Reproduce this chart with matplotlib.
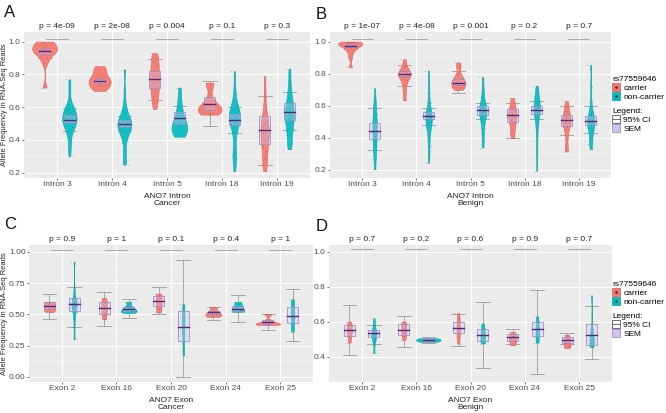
import numpy as np
import matplotlib
matplotlib.use("Agg")
import matplotlib.pyplot as plt
from matplotlib.patches import Patch, Rectangle
from matplotlib.lines import Line2D
from matplotlib.transforms import blended_transform_factory

plt.rcParams['font.family'] = ['Liberation Sans', 'DejaVu Sans']
FS = 6.0

# ---- data ----
intron_labels = ['Intron 3', 'Intron 4', 'Intron 5', 'Intron 18', 'Intron 19']
exon_labels = ['Exon 2', 'Exon 16', 'Exon 20', 'Exon 24', 'Exon 25']

# A: intron, cancer
a_carrier = [
    [1.0, 1.0, 0.99, 0.98, 0.97, 0.96, 0.95, 0.95, 0.94, 0.93, 0.92, 0.90, 0.87, 0.72],
    [0.85, 0.84, 0.83, 0.81, 0.79, 0.78, 0.77, 0.76, 0.76, 0.75, 0.74, 0.73, 0.72, 0.71, 0.70],
    [0.93, 0.90, 0.88, 0.86, 0.82, 0.79, 0.77, 0.75, 0.73, 0.70, 0.67, 0.64, 0.59],
    [0.75, 0.73, 0.66, 0.62, 0.61, 0.60, 0.59, 0.58, 0.57, 0.56, 0.555],
    [0.79, 0.66, 0.56, 0.52, 0.50, 0.48, 0.46, 0.44, 0.42, 0.40, 0.37, 0.33, 0.29, 0.25, 0.21],
]
a_noncarrier = [
    [0.77, 0.70, 0.62, 0.60, 0.59, 0.58, 0.57, 0.56, 0.55, 0.54, 0.53, 0.52, 0.52, 0.51,
     0.50, 0.49, 0.48, 0.46, 0.45, 0.40, 0.36, 0.30],
    [0.83, 0.70, 0.62, 0.58, 0.56, 0.54, 0.53, 0.52, 0.51, 0.50, 0.50, 0.49, 0.48, 0.47,
     0.46, 0.45, 0.44, 0.42, 0.38, 0.33, 0.28, 0.25],
    [0.72, 0.66, 0.61, 0.58, 0.55, 0.53, 0.51, 0.50, 0.49, 0.48, 0.47, 0.46, 0.45, 0.44, 0.43, 0.42],
    [0.82, 0.72, 0.65, 0.61, 0.59, 0.58, 0.57, 0.56, 0.55, 0.54, 0.53, 0.52, 0.51, 0.50,
     0.48, 0.45, 0.40, 0.32, 0.30, 0.29, 0.21],
    [0.835, 0.72, 0.66, 0.62, 0.59, 0.57, 0.55, 0.53, 0.51, 0.48, 0.43, 0.38, 0.345],
]
a_mean_c = [0.94, 0.76, 0.77, 0.62, 0.46]
a_mean_n = [0.525, 0.50, 0.535, 0.525, 0.57]
a_sem_c = [(0.925, 0.955), (0.75, 0.77), (0.72, 0.82), (0.585, 0.665), (0.375, 0.545)]
a_sem_n = [(0.505, 0.55), (0.48, 0.52), (0.50, 0.57), (0.49, 0.56), (0.52, 0.625)]
a_ci_c = [(0.90, 0.98), (0.735, 0.785), (0.645, 0.895), (0.485, 0.76), (0.25, 0.67)]
a_ci_n = [(0.455, 0.595), (0.455, 0.545), (0.46, 0.61), (0.445, 0.60), (0.46, 0.69)]
a_p = ['4e-09', '2e-08', '0.004', '0.1', '0.3']

# B: intron, benign
b_carrier = [
    [1.0, 1.0, 0.995, 0.99, 0.99, 0.985, 0.98, 0.975, 0.97, 0.96, 0.95, 0.93, 0.90, 0.84],
    [0.89, 0.85, 0.82, 0.81, 0.80, 0.80, 0.79, 0.78, 0.76, 0.73, 0.69, 0.635],
    [0.87, 0.84, 0.79, 0.77, 0.76, 0.75, 0.74, 0.73, 0.72, 0.71, 0.70],
    [0.65, 0.62, 0.59, 0.57, 0.55, 0.54, 0.53, 0.51, 0.49, 0.46, 0.42, 0.40],
    [0.63, 0.60, 0.57, 0.55, 0.53, 0.52, 0.51, 0.50, 0.49, 0.47, 0.45, 0.40, 0.33, 0.315],
]
b_noncarrier = [
    [0.71, 0.62, 0.57, 0.55, 0.53, 0.50, 0.47, 0.45, 0.43, 0.41, 0.38, 0.35, 0.31, 0.27, 0.205],
    [0.82, 0.74, 0.68, 0.62, 0.58, 0.56, 0.55, 0.54, 0.53, 0.52, 0.51, 0.50, 0.49, 0.47,
     0.44, 0.40, 0.35, 0.30, 0.245],
    [0.78, 0.70, 0.65, 0.61, 0.59, 0.58, 0.57, 0.56, 0.55, 0.53, 0.50, 0.46, 0.40, 0.34],
    [0.725, 0.70, 0.66, 0.63, 0.61, 0.60, 0.59, 0.58, 0.57, 0.56, 0.54, 0.50, 0.45, 0.38, 0.30, 0.195],
    [0.855, 0.72, 0.62, 0.56, 0.54, 0.52, 0.51, 0.50, 0.49, 0.48, 0.46, 0.44, 0.40, 0.36, 0.33],
]
b_mean_c = [0.975, 0.80, 0.745, 0.54, 0.51]
b_mean_n = [0.44, 0.535, 0.575, 0.575, 0.505]
b_sem_c = [(0.965, 0.985), (0.785, 0.815), (0.73, 0.765), (0.50, 0.58), (0.475, 0.545)]
b_sem_n = [(0.39, 0.49), (0.515, 0.56), (0.545, 0.60), (0.55, 0.60), (0.48, 0.535)]
b_ci_c = [(0.955, 0.995), (0.725, 0.855), (0.68, 0.815), (0.40, 0.62), (0.415, 0.60)]
b_ci_n = [(0.325, 0.585), (0.48, 0.585), (0.515, 0.62), (0.52, 0.63), (0.43, 0.60)]
b_p = ['1e-07', '4e-08', '0.001', '0.2', '0.7']

# C: exon, cancer
c_carrier = [
    [0.60, 0.59, 0.58, 0.56, 0.54, 0.53, 0.52],
    [0.63, 0.59, 0.55, 0.51, 0.46],
    [0.665, 0.65, 0.62, 0.58, 0.54, 0.515],
    [0.56, 0.53, 0.51, 0.50, 0.49, 0.48],
    [0.50, 0.45, 0.43, 0.425, 0.42, 0.415],
]
c_noncarrier = [
    [0.92, 0.70, 0.62, 0.60, 0.59, 0.58, 0.57, 0.55, 0.52, 0.48, 0.40, 0.30],
    [0.60, 0.56, 0.54, 0.53, 0.52, 0.51],
    [0.58, 0.47, 0.35, 0.17],
    [0.60, 0.58, 0.55, 0.53, 0.52, 0.52],
    [0.62, 0.58, 0.52, 0.47, 0.40, 0.36],
]
c_mean_c = [0.57, 0.55, 0.61, 0.515, 0.44]
c_mean_n = [0.58, 0.545, 0.40, 0.545, 0.49]
c_sem_c = [(0.545, 0.595), (0.50, 0.60), (0.57, 0.65), (0.50, 0.53), (0.425, 0.455)]
c_sem_n = [(0.53, 0.63), (0.53, 0.56), (0.29, 0.53), (0.525, 0.565), (0.43, 0.56)]
c_ci_c = [(0.465, 0.665), (0.41, 0.68), (0.50, 0.72), (0.455, 0.56), (0.375, 0.50)]
c_ci_n = [(0.40, 0.715), (0.47, 0.625), (0.0, 0.935), (0.44, 0.655), (0.285, 0.70)]
c_p = ['0.9', '1', '0.1', '0.4', '1']

# D: exon, benign
d_carrier = [
    [0.60, 0.58, 0.56, 0.54, 0.52, 0.48],
    [0.60, 0.58, 0.56, 0.54, 0.52, 0.495],
    [0.65, 0.62, 0.58, 0.56, 0.54, 0.51, 0.475],
    [0.54, 0.52, 0.50, 0.49, 0.465],
    [0.524, 0.50, 0.48, 0.46, 0.45],
]
d_noncarrier = [
    [0.62, 0.58, 0.55, 0.54, 0.53, 0.52, 0.50, 0.48, 0.42],
    [0.505, 0.50, 0.495, 0.49, 0.485],
    [0.59, 0.56, 0.53, 0.51, 0.49, 0.475],
    [0.63, 0.60, 0.56, 0.53, 0.50, 0.48],
    [0.75, 0.56, 0.52, 0.50, 0.48, 0.465, 0.455],
]
d_mean_c = [0.55, 0.555, 0.565, 0.51, 0.495]
d_mean_n = [0.535, 0.495, 0.525, 0.56, 0.525]
d_sem_c = [(0.52, 0.58), (0.525, 0.585), (0.535, 0.60), (0.49, 0.53), (0.48, 0.51)]
d_sem_n = [(0.515, 0.555), (0.49, 0.50), (0.49, 0.56), (0.52, 0.60), (0.465, 0.585)]
d_ci_c = [(0.41, 0.695), (0.455, 0.63), (0.46, 0.645), (0.475, 0.56), (0.47, 0.535)]
d_ci_n = [(0.47, 0.58), (0.48, 0.515), (0.335, 0.71), (0.30, 0.78), (0.385, 0.69)]
d_p = ['0.7', '0.2', '0.6', '0.9', '0.7']

RED = '#F8766D'
TEAL = '#00BFC4'
RED_EDGE = '#D9574F'
TEAL_EDGE = '#0A9DA1'
SEM_EDGE = '#A08FCF'
SEM_FILL = '#CFC3EA'
MEAN_COL = '#56287A'
CI_COL = '#9C9C9C'


def kde(samples):
    s = np.asarray(samples, float)
    n = len(s)
    sd = s.std(ddof=1)
    iqr = np.subtract(*np.percentile(s, [75, 25]))
    lo = min(sd, iqr / 1.34) if iqr > 0 else sd
    bw = 0.9 * lo * n ** -0.2
    y = np.linspace(s.min(), s.max(), 256)
    d = np.exp(-0.5 * ((y[:, None] - s[None, :]) / bw) ** 2).sum(1) / (n * bw * np.sqrt(2 * np.pi))
    return y, d


def draw_panel(ax, labels, carrier, noncarrier, mean_c, mean_n, sem_c, sem_n,
               ci_c, ci_n, pvals, xlim, ylim, yticks, yticklabels, xlabel):
    ax.set_facecolor('#EBEBEB')
    for sp in ax.spines.values():
        sp.set_visible(False)
    groups = []
    for i in range(len(labels)):
        x0 = i + 1
        groups.append((x0 - 0.225, carrier[i], mean_c[i], sem_c[i], ci_c[i], RED, RED_EDGE))
        groups.append((x0 + 0.225, noncarrier[i], mean_n[i], sem_n[i], ci_n[i], TEAL, TEAL_EDGE))
    dens = [kde(g[1]) for g in groups]
    dmax = max(d.max() for _, d in dens)
    for (x, s, m, sem, ci, fc, ec), (y, d) in zip(groups, dens):
        # 95% CI error bar
        ax.plot([x, x], ci, color=CI_COL, lw=0.6, zorder=1.5)
        for v in ci:
            ax.plot([x - 0.125, x + 0.125], [v, v], color=CI_COL, lw=0.6, zorder=1.5)
        hw = d / dmax * 0.225
        ax.fill_betweenx(y, x - hw, x + hw, facecolor=fc, edgecolor=ec, lw=0.4,
                         alpha=0.92, zorder=2)
        off = ((np.arange(len(s)) * 0.618) % 1 - 0.5) * 0.12
        ax.scatter(x + off, s, s=0.35, c='#3a3a3a', alpha=0.3, linewidths=0, zorder=3.5)
        ax.add_patch(Rectangle((x - 0.1, sem[0]), 0.2, sem[1] - sem[0], facecolor=SEM_FILL,
                               alpha=0.35, edgecolor='none', zorder=3))
        ax.add_patch(Rectangle((x - 0.1, sem[0]), 0.2, sem[1] - sem[0], facecolor='none',
                               edgecolor=SEM_EDGE, lw=0.6, zorder=3.2))
        ax.plot([x - 0.1, x + 0.1], [m, m], color=MEAN_COL, lw=1.0, zorder=4)
    trans = blended_transform_factory(ax.transData, ax.transAxes)
    for i, p in enumerate(pvals):
        x0 = i + 1
        ax.plot([x0 - 0.2, x0 + 0.2], [1.015, 1.015], color='#A0A0A0', lw=0.6, zorder=2)
        ax.text(x0, 1.012, 'p = ' + p, transform=trans, ha='center', va='bottom',
                fontsize=FS, color='#222222', clip_on=False)
    ax.set_xlim(*xlim)
    ax.set_ylim(*ylim)
    ax.set_xticks(range(1, len(labels) + 1))
    ax.set_xticklabels(labels)
    ax.set_yticks(yticks)
    ax.set_yticklabels(yticklabels)
    minor = [(a + b) / 2 for a, b in zip(yticks[:-1], yticks[1:])]
    ax.set_yticks(minor, minor=True)
    ax.tick_params(axis='y', which='minor', length=0)
    ax.grid(True, which='major', color='white', lw=0.7, zorder=0)
    ax.grid(True, which='minor', axis='y', color='white', lw=0.35, zorder=0)
    ax.set_axisbelow(True)
    ax.tick_params(which='major', length=1.5, width=0.5, color='#333333', labelsize=FS,
                   labelcolor='#4D4D4D', pad=1.0)
    ax.set_xlabel(xlabel, fontsize=FS, color='#222222', labelpad=3, linespacing=1.1)


W, H = 666, 413
fig = plt.figure(figsize=(W / 100, H / 100), dpi=100)


def box(l, r, t, b):
    return [l / W, 1 - b / H, (r - l) / W, (b - t) / H]


axA = fig.add_axes(box(24, 310, 32, 178))
axB = fig.add_axes(box(330, 611, 32, 178))
axC = fig.add_axes(box(29, 313, 245, 382))
axD = fig.add_axes(box(329, 612, 245, 382))

xl = (0.4, 5.6)
draw_panel(axA, intron_labels, a_carrier, a_noncarrier, a_mean_c, a_mean_n, a_sem_c, a_sem_n,
           a_ci_c, a_ci_n, a_p, xl, (0.168, 1.059), [0.2, 0.4, 0.6, 0.8, 1.0],
           ['0.2', '0.4', '0.6', '0.8', '1.0'], 'ANO7 Intron\nCancer')
draw_panel(axB, intron_labels, b_carrier, b_noncarrier, b_mean_c, b_mean_n, b_sem_c, b_sem_n,
           b_ci_c, b_ci_n, b_p, xl, (0.15, 1.06), [0.2, 0.4, 0.6, 0.8, 1.0],
           ['0.2', '0.4', '0.6', '0.8', '1.0'], 'ANO7 Intron\nBenign')
draw_panel(axC, exon_labels, c_carrier, c_noncarrier, c_mean_c, c_mean_n, c_sem_c, c_sem_n,
           c_ci_c, c_ci_n, c_p, xl, (-0.042, 1.054), [0.0, 0.25, 0.5, 0.75, 1.0],
           ['0.00', '0.25', '0.50', '0.75', '1.00'], 'ANO7 Exon\nCancer')
draw_panel(axD, exon_labels, d_carrier, d_noncarrier, d_mean_c, d_mean_n, d_sem_c, d_sem_n,
           d_ci_c, d_ci_n, d_p, xl, (0.255, 1.038), [0.4, 0.6, 0.8, 1.0],
           ['0.4', '0.6', '0.8', '1.0'], 'ANO7 Exon\nBenign')

# y-axis title on the left panels
for yc in ((32 + 178) / 2, (245 + 382) / 2):
    fig.text(5 / W, 1 - yc / H, 'Allele Frequency in RNA-Seq Reads', rotation=90,
             fontsize=5.4, color='#222222', ha='center', va='center')

for lab, (x, y) in zip('ABCD', [(4, 17), (316, 19), (4, 229), (316, 231)]):
    fig.text(x / W, 1 - y / H, lab, fontsize=12, color='#111111', ha='left', va='baseline')

# legends
dot = Line2D([], [], marker='o', ms=0.9, color='#333333', ls='')
h_car = (Patch(facecolor=RED, edgecolor=RED_EDGE, lw=0.5), dot)
h_non = (Patch(facecolor=TEAL, edgecolor=TEAL_EDGE, lw=0.5), dot)
h_ci = (Patch(facecolor='none', edgecolor='#555555', lw=0.6),
        Line2D([], [], color='#555555', lw=0.6))
h_sem = Patch(facecolor=SEM_FILL, edgecolor=SEM_EDGE, lw=0.6)

for ax, top in ((axB, 76), (axD, 281)):
    kw = dict(loc='upper left', bbox_transform=fig.transFigure, frameon=False,
              fontsize=FS, title_fontsize=FS, handlelength=1.0, handleheight=1.0,
              handletextpad=0.35, labelspacing=0.05, borderpad=0, borderaxespad=0,
              alignment='left')
    leg1 = ax.legend([h_car, h_non], ['carrier', 'non-carrier'], title='rs77559646',
                     bbox_to_anchor=(612 / W, 1 - top / H), **kw)
    ax.add_artist(leg1)
    ax.legend([h_ci, h_sem], ['95% CI', 'SEM'], title='Legend:',
              bbox_to_anchor=(612 / W, 1 - (top + 32) / H), **kw)

fig.savefig('out.png', dpi=100)
